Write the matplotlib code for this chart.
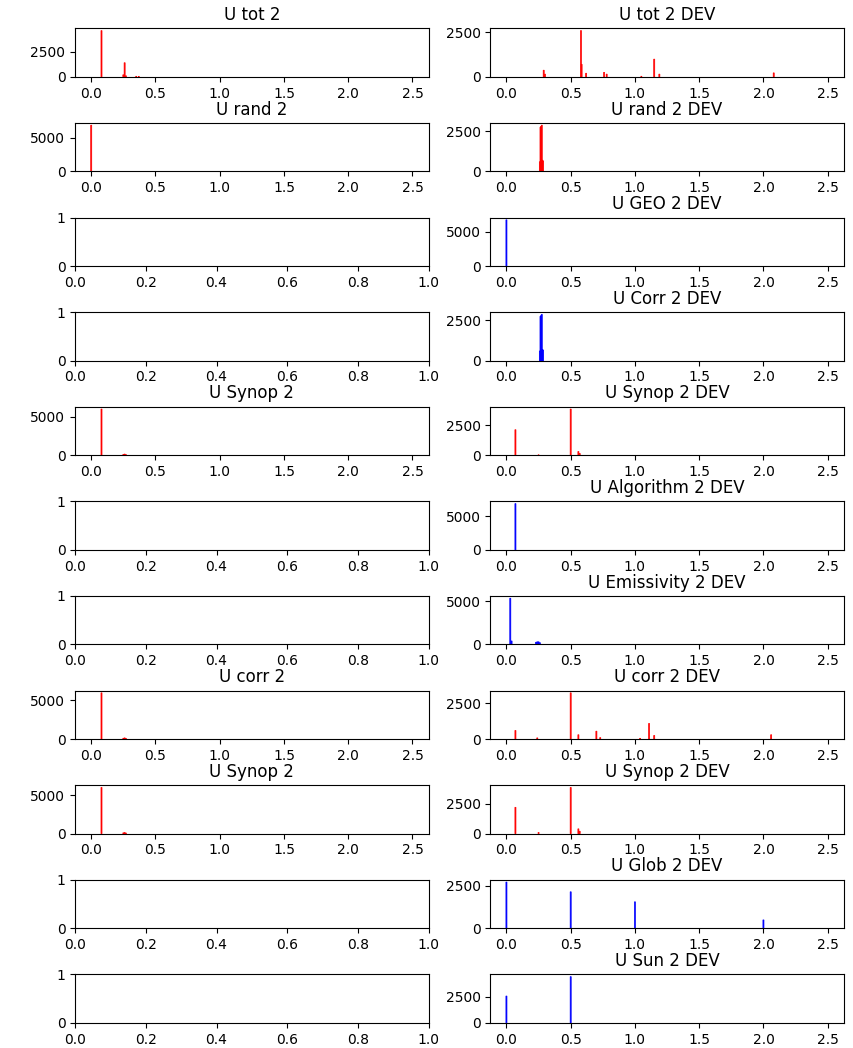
import matplotlib
matplotlib.use("Agg")
import matplotlib.pyplot as plt

# uncertainty histograms: bin centres and counts for the populated bins
tot_x = [0.08, 0.25, 0.26, 0.27, 0.35, 0.37]
tot_n = [4600, 200, 1400, 100, 50, 40]

rand_x = [0.0]
rand_n = [6900]

synop_x = [0.08, 0.25, 0.26, 0.27]
synop_n = [5980, 100, 150, 80]

corr_x = [0.08, 0.25, 0.26, 0.27]
corr_n = [5980, 100, 150, 80]

tot_dev_x = [0.29, 0.30, 0.58, 0.585, 0.62, 0.76, 0.78, 1.05, 1.15, 1.19, 2.08]
tot_dev_n = [370, 150, 2590, 700, 200, 250, 150, 30, 990, 150, 220]

rand_dev_x = [0.26, 0.265, 0.27, 0.275, 0.28, 0.285]
rand_dev_n = [600, 2750, 2800, 2870, 700, 650]

geo_dev_x = [0.0]
geo_dev_n = [6760]

corr_dev_x = [0.26, 0.265, 0.27, 0.275, 0.28, 0.285]
corr_dev_n = [600, 2750, 2800, 2870, 700, 650]

synop_dev_x = [0.07, 0.25, 0.5, 0.56, 0.57]
synop_dev_n = [2130, 30, 3860, 310, 150]

algo_dev_x = [0.07]
algo_dev_n = [6900]

emis_dev_x = [0.03, 0.04, 0.23, 0.24, 0.25, 0.26]
emis_dev_n = [5330, 400, 250, 300, 300, 200]

corr2_dev_x = [0.07, 0.24, 0.5, 0.56, 0.70, 0.73, 1.04, 1.11, 1.15, 2.06]
corr2_dev_n = [600, 80, 3235, 300, 550, 100, 50, 1090, 250, 300]

synop2_dev_x = [0.07, 0.25, 0.5, 0.56, 0.57]
synop2_dev_n = [2200, 100, 3860, 400, 200]

glob_dev_x = [0.0, 0.5, 1.0, 2.0]
glob_dev_n = [2720, 2145, 1555, 490]

sun_dev_x = [0.0, 0.5]
sun_dev_n = [2565, 4420]

# (title, x, counts, colour) per row; None means an empty panel
left = [
    ("U tot 2", tot_x, tot_n, "red"),
    ("U rand 2", rand_x, rand_n, "red"),
    None,
    None,
    ("U Synop 2", synop_x, synop_n, "red"),
    None,
    None,
    ("U corr 2", corr_x, corr_n, "red"),
    ("U Synop 2", synop_x, synop_n, "red"),
    None,
    None,
]
right = [
    ("U tot 2 DEV", tot_dev_x, tot_dev_n, "red"),
    ("U rand 2 DEV", rand_dev_x, rand_dev_n, "red"),
    ("U GEO 2 DEV", geo_dev_x, geo_dev_n, "blue"),
    ("U Corr 2 DEV", corr_dev_x, corr_dev_n, "blue"),
    ("U Synop 2 DEV", synop_dev_x, synop_dev_n, "red"),
    ("U Algorithm 2 DEV", algo_dev_x, algo_dev_n, "blue"),
    ("U Emissivity 2 DEV", emis_dev_x, emis_dev_n, "blue"),
    ("U corr 2 DEV", corr2_dev_x, corr2_dev_n, "red"),
    ("U Synop 2 DEV", synop2_dev_x, synop2_dev_n, "red"),
    ("U Glob 2 DEV", glob_dev_x, glob_dev_n, "blue"),
    ("U Sun 2 DEV", sun_dev_x, sun_dev_n, "blue"),
]

fig, axes = plt.subplots(11, 2, figsize=(8.54, 10.48), dpi=100)
plt.subplots_adjust(left=0.088, right=0.988, top=0.973, bottom=0.024,
                    wspace=0.175, hspace=0.95)


def draw(ax, spec):
    if spec is None:
        ax.set_yticks([0, 1])
        return
    title, x, n, col = spec
    ax.bar(x, n, width=0.008, color=col, edgecolor=col, linewidth=0.5,
           snap=False)
    ax.set_xlim(-0.125, 2.625)
    ax.set_xticks([0.0, 0.5, 1.0, 1.5, 2.0, 2.5])
    ax.set_title(title)


for i in range(11):
    draw(axes[i, 0], left[i])
    draw(axes[i, 1], right[i])

plt.savefig("out.png", dpi=100)
